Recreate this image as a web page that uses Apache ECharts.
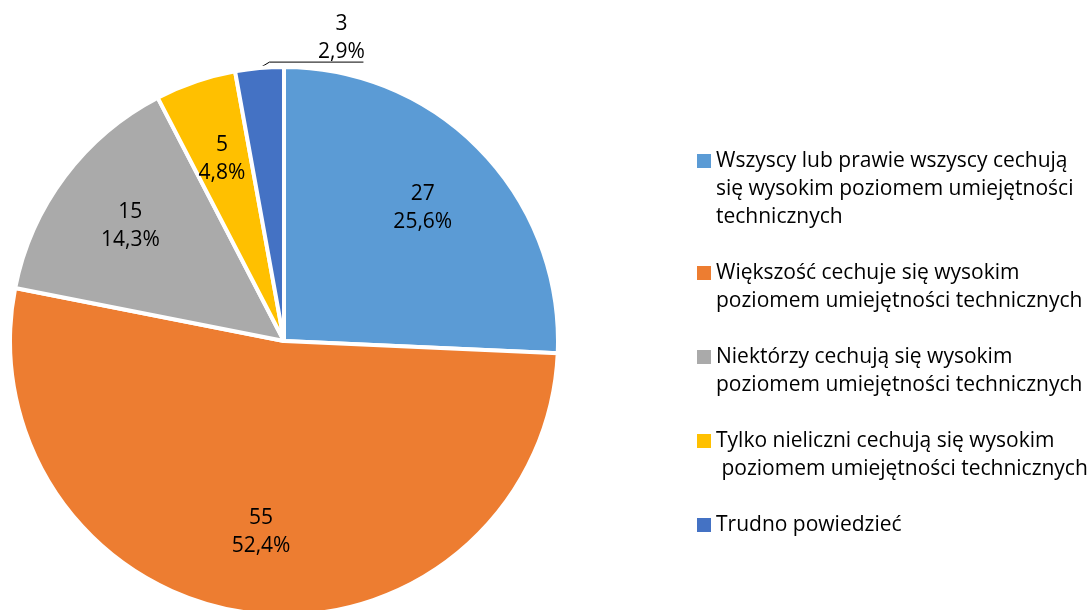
<!DOCTYPE html>
<html>
<head>
<meta charset="utf-8">
<script src="https://cdn.jsdelivr.net/npm/echarts@6/dist/echarts.min.js"></script>
<style>
  html, body { margin: 0; padding: 0; background: #fff; }
  #chart { width: 1088px; height: 610px; }
</style>
</head>
<body>
<div id="chart"></div>
<script>
// dane
var categories = [
  'Wszyscy lub prawie wszyscy cechują\nsię wysokim poziomem umiejętności\ntechnicznych',
  'Większość cechuje się wysokim\npoziomem umiejętności technicznych',
  'Niektórzy cechują się wysokim\npoziomem umiejętności technicznych',
  'Tylko nieliczni cechują się wysokim\n poziomem umiejętności technicznych',
  'Trudno powiedzieć'
];
var values = [27, 55, 15, 5, 3];
var percentLabels = ['25,6%', '52,4%', '14,3%', '4,8%', '2,9%'];
var colors = ['#5B9BD5', '#ED7D31', '#AAAAAA', '#FFC000', '#4472C4'];

var FONT = 'Open Sans';
var FONT_SIZE = 21;
var LINE = 28;

var chart = echarts.init(document.getElementById('chart'));

// legenda: puste linie tak, aby pierwsza linia tekstu stała przy kwadracie
function legendText(name) {
  var n = name.split('\n').length;
  var pre = new Array(n).join('\n');
  if (n === 1) return '\n' + name + '\n';
  return pre + name;
}

var mainData = values.map(function (v, i) {
  var item = { name: categories[i], value: v };
  if (i === 4) {
    item.label = { show: true, position: 'outside' };
    item.labelLine = { show: true, length: 8, length2: 60, lineStyle: { color: '#000', width: 1 } };
  }
  return item;
});

var labelData = values.map(function (v, i) {
  return {
    name: categories[i],
    value: v,
    label: { show: i !== 4 }
  };
});

var option = {
  backgroundColor: '#fff',
  animation: false,
  color: colors,
  legend: {
    orient: 'vertical',
    left: 697,
    top: 91,
    padding: 0,
    itemGap: 0,
    itemWidth: 14,
    itemHeight: 14,
    icon: 'rect',
    selectedMode: false,
    itemStyle: { borderWidth: 0 },
    formatter: legendText,
    textStyle: { fontFamily: FONT, fontSize: FONT_SIZE, color: '#000', lineHeight: LINE },
    data: categories
  },
  series: [
    {
      name: 'main',
      type: 'pie',
      center: [284, 341],
      radius: [0, 274],
      startAngle: 90,
      clockwise: true,
      avoidLabelOverlap: false,
      itemStyle: { borderColor: '#fff', borderWidth: 4 },
      label: {
        show: false,
        fontFamily: FONT,
        fontSize: FONT_SIZE,
        color: '#000',
        lineHeight: LINE,
        formatter: function (p) {
          return values[p.dataIndex] + '\n' + percentLabels[p.dataIndex];
        }
      },
      labelLayout: function (params) {
        if (params.dataIndex !== 4 || !params.labelLinePoints) return {};
        var p = params.labelLinePoints[0];
        return {
          x: p[0] + 82,
          y: p[1] - 2,
          align: 'center',
          verticalAlign: 'bottom',
          labelLinePoints: [p, [p[0] + 10, p[1] - 6], [p[0] + 104, p[1] - 6]]
        };
      },
      emphasis: { disabled: true },
      data: mainData
    },
    {
      name: 'labels',
      type: 'pie',
      center: [284, 341],
      radius: [104, 274],
      startAngle: 90,
      clockwise: true,
      silent: true,
      avoidLabelOverlap: false,
      itemStyle: { color: 'rgba(0,0,0,0)', borderWidth: 0 },
      label: {
        position: 'inside',
        fontFamily: FONT,
        fontSize: FONT_SIZE,
        color: '#000',
        lineHeight: LINE,
        formatter: function (p) {
          return values[p.dataIndex] + '\n' + percentLabels[p.dataIndex];
        }
      },
      labelLine: { show: false },
      emphasis: { disabled: true },
      data: labelData
    }
  ]
};

chart.setOption(option);
</script>
</body>
</html>
